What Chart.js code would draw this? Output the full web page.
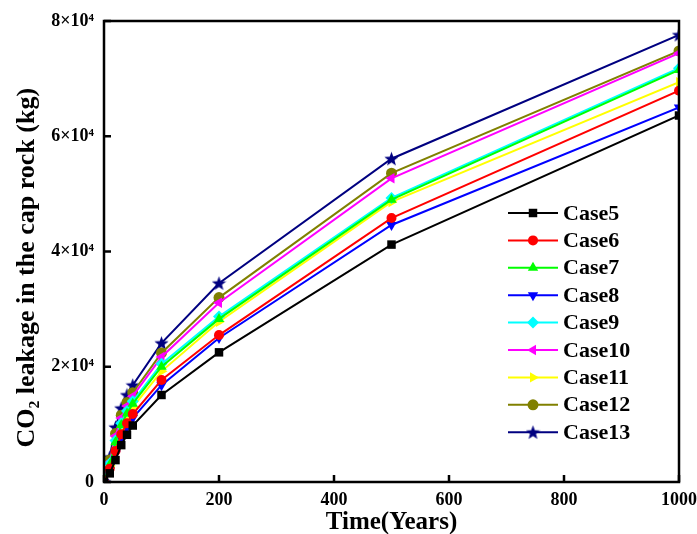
<!DOCTYPE html>
<html>
<head>
<meta charset="utf-8">
<script src="https://cdn.jsdelivr.net/npm/chart.js@4/dist/chart.umd.min.js"></script>
<style>
  html, body { margin: 0; padding: 0; background: #fff; }
  #wrap { width: 697px; height: 534px; }
</style>
</head>
<body>
<div id="wrap"><canvas id="chartLeak" width="697" height="534"></canvas></div>
<script>
// DATA
var years = [0, 10, 20, 30, 40, 50, 100, 200, 500, 1000];
var caseNames = ["Case5", "Case6", "Case7", "Case8", "Case9", "Case10", "Case11", "Case12", "Case13"];
var case5 = [0, 1500, 3800, 6400, 8200, 9800, 15100, 22500, 41200, 63600];
var case6 = [0, 2300, 5400, 8300, 10200, 11800, 17700, 25500, 45800, 67900];
var case7 = [0, 3000, 6900, 9900, 11900, 13600, 20000, 28300, 49000, 71500];
var case8 = [0, 2000, 4900, 7600, 9500, 11100, 16800, 25000, 44600, 65000];
var case9 = [0, 3200, 7200, 10200, 12300, 14000, 20500, 28700, 49300, 71800];
var case10 = [0, 3500, 8000, 11100, 13200, 14900, 21700, 31100, 52700, 74400];
var case11 = [0, 2800, 6400, 9300, 11400, 13000, 19200, 27800, 48600, 69400];
var case12 = [0, 3800, 8400, 11600, 13800, 15500, 22400, 32000, 53600, 74800];
var case13 = [0, 4300, 9500, 12800, 15100, 16800, 24100, 34500, 56100, 77600];
var xTicks = [0, 200, 400, 600, 800, 1000];
var yTicks = [0, 20000, 40000, 60000, 80000];

var seriesValues = [case5, case6, case7, case8, case9, case10, case11, case12, case13];
var colors = ["#000000", "#ff0000", "#00ff00", "#0000ff", "#00ffff", "#ff00ff", "#ffff00", "#808000", "#000080"];

// filled five point star for Case13
function makeStar(color, size) {
    var c = document.createElement('canvas');
    c.width = size;
    c.height = size;
    var g = c.getContext('2d');
    var cx = size / 2, cy = size / 2, ro = size / 2, ri = ro * 0.42;
    g.beginPath();
    for (var i = 0; i < 10; i++) {
        var r = i % 2 === 0 ? ro : ri;
        var a = -Math.PI / 2 + i * Math.PI / 5;
        g.lineTo(cx + r * Math.cos(a), cy + r * Math.sin(a) + 0.6);
    }
    g.closePath();
    g.fillStyle = color;
    g.fill();
    return c;
}
var starImg = makeStar("#000080", 15);

var styles = ['rect', 'circle', 'triangle', 'triangle', 'rectRot', 'triangle', 'triangle', 'circle', starImg];
var rotations = [0, 0, 0, 180, 0, -90, 90, 0, 0];
var radii = [6, 5, 6, 6, 6, 6, 6, 5.5, 7];

var datasets = [];
for (var i = 0; i < caseNames.length; i++) {
    var pts = [];
    for (var j = 0; j < years.length; j++) {
        pts.push({x: years[j], y: seriesValues[i][j]});
    }
    datasets.push({
        label: caseNames[i],
        data: pts,
        borderColor: colors[i],
        backgroundColor: colors[i],
        borderWidth: 2,
        pointStyle: styles[i],
        rotation: rotations[i],
        pointRadius: radii[i],
        pointBorderWidth: 0,
        tension: 0
    });
}

// white page, frame, inward ticks, legend inside the plot
var framePlugin = {
    id: 'framePlugin',
    beforeDraw: function (chart) {
        var ctx = chart.ctx;
        ctx.save();
        ctx.fillStyle = '#fff';
        ctx.fillRect(0, 0, chart.width, chart.height);
        ctx.restore();
    },
    afterDraw: function (chart) {
        var ctx = chart.ctx;
        var a = chart.chartArea;
        var xs = chart.scales.x, ys = chart.scales.y;
        ctx.save();
        ctx.strokeStyle = '#000';
        ctx.lineWidth = 2.5;
        ctx.strokeRect(a.left, a.top, a.right - a.left, a.bottom - a.top);
        ctx.beginPath();
        xTicks.forEach(function (v) {
            var px = xs.getPixelForValue(v);
            ctx.moveTo(px, a.bottom);
            ctx.lineTo(px, a.bottom - 7);
        });
        yTicks.forEach(function (v) {
            var py = ys.getPixelForValue(v);
            ctx.moveTo(a.left, py);
            ctx.lineTo(a.left + 7, py);
        });
        ctx.stroke();

        // LEGEND
        var lx = 508, ly = 213, step = 27.4;
        ctx.font = 'bold 22px "Liberation Serif", "Times New Roman", serif';
        ctx.textBaseline = 'middle';
        ctx.textAlign = 'left';
        chart.data.datasets.forEach(function (ds, k) {
            var y = ly + k * step;
            ctx.strokeStyle = ds.borderColor;
            ctx.lineWidth = 2;
            ctx.beginPath();
            ctx.moveTo(lx, y);
            ctx.lineTo(lx + 50, y);
            ctx.stroke();
            ctx.fillStyle = ds.backgroundColor;
            if (Chart.helpers && Chart.helpers.drawPoint) {
                Chart.helpers.drawPoint(ctx, {
                    pointStyle: ds.pointStyle,
                    rotation: ds.rotation,
                    radius: ds.pointRadius,
                    borderWidth: 0
                }, lx + 25, y);
            }
            ctx.fillStyle = '#000';
            ctx.fillText(ds.label, lx + 55, y + 1);
        });
        ctx.restore();
    }
};

// LINE CHART
function leakChart() {
    var ctx = document.getElementById("chartLeak").getContext('2d');
    var serif = '"Liberation Serif", "Times New Roman", serif';
    return new Chart(ctx, {
        type: 'line',
        data: {datasets: datasets},
        options: {
            responsive: false,
            animation: false,
            devicePixelRatio: 1,
            layout: {padding: {left: 0, right: 18, top: 21, bottom: 0}},
            plugins: {
                legend: {display: false},
                tooltip: {enabled: false}
            },
            scales: {
                x: {
                    type: 'linear',
                    min: 0,
                    max: 1000,
                    afterFit: function (s) {
                        s.height = 52;
                        s.paddingLeft = 0;
                        s.paddingRight = 0;
                    },
                    afterBuildTicks: function (s) {
                        s.ticks = xTicks.map(function (v) { return {value: v}; });
                    },
                    grid: {display: false, drawTicks: false},
                    border: {display: false},
                    ticks: {
                        padding: 8,
                        color: '#000',
                        font: {family: serif, size: 18, weight: 'bold'},
                        callback: function (v) { return String(v); }
                    },
                    title: {
                        display: true,
                        text: 'Time(Years)',
                        color: '#000',
                        padding: {top: 0, bottom: -4},
                        font: {family: serif, size: 25, weight: 'bold'}
                    }
                },
                y: {
                    type: 'linear',
                    min: 0,
                    max: 80000,
                    afterFit: function (s) {
                        s.width = 104;
                        s.paddingTop = 0;
                        s.paddingBottom = 0;
                    },
                    afterBuildTicks: function (s) {
                        s.ticks = yTicks.map(function (v) { return {value: v}; });
                    },
                    grid: {display: false, drawTicks: false},
                    border: {display: false},
                    ticks: {
                        padding: 10,
                        color: '#000',
                        font: {family: serif, size: 18, weight: 'bold'},
                        callback: function (v) {
                            return v === 0 ? '0' : (v / 10000) + '×10⁴';
                        }
                    },
                    title: {
                        display: true,
                        text: 'CO₂ leakage in the cap rock (kg)     ',
                        color: '#000',
                        padding: {top: 12, bottom: 0},
                        font: {family: serif, size: 26, weight: 'bold'}
                    }
                }
            }
        },
        plugins: [framePlugin]
    });
}

leakChart();
</script>
</body>
</html>
